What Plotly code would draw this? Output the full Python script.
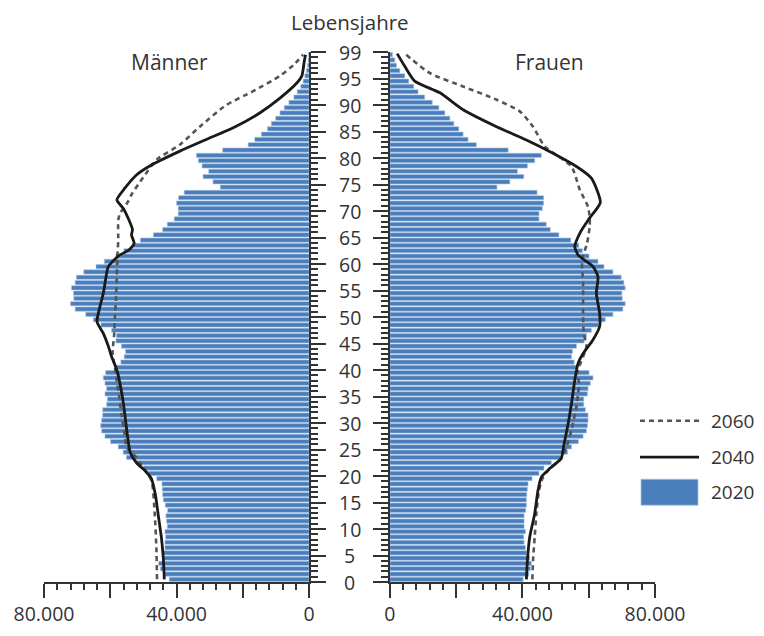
import plotly.graph_objects as go

# ---------------- data (thousands of persons per single year of age) ----------------
ages = list(range(0, 100))

men_2020 = [42.2, 43.5, 44.9, 45.4, 43.8, 44.0, 43.5, 43.5, 43.3, 43.5,
            42.8, 43.0, 43.2, 42.7, 43.4, 44.0, 44.2, 44.3, 44.4, 46.0,
            48.5, 50.0, 52.1, 55.1, 56.1, 57.6, 59.9, 61.6, 62.6, 62.9,
            62.6, 62.3, 62.3, 61.1, 60.9, 61.6, 61.1, 61.6, 62.1, 61.4,
            58.8, 56.8, 55.8, 55.4, 56.6, 58.3, 58.1, 59.6, 62.8, 65.1,
            67.4, 70.6, 72.0, 71.0, 71.1, 71.7, 70.6, 70.2, 68.0, 64.3,
            61.8, 58.3, 55.9, 53.1, 50.9, 47.0, 44.2, 42.8, 40.7, 39.5,
            39.5, 40.0, 39.4, 37.7, 26.8, 29.0, 32.0, 30.3, 32.3, 33.4,
            34.0, 26.1, 18.4, 16.4, 14.4, 12.6, 11.4, 10.1, 8.8, 7.5,
            6.1, 4.6, 3.6, 2.5, 1.8, 1.3, 0.8, 0.5, 0.3, 0.2]

women_2020 = [40.2, 41.9, 42.4, 42.7, 42.2, 41.2, 40.9, 40.5, 40.4, 40.9,
              40.5, 40.5, 40.5, 41.0, 41.2, 41.2, 41.3, 41.5, 41.7, 42.9,
              45.0, 46.5, 48.7, 51.5, 53.6, 54.8, 56.9, 58.3, 59.3, 59.6,
              59.8, 59.8, 59.0, 58.5, 58.5, 59.6, 59.8, 60.5, 61.3, 60.1,
              56.5, 55.6, 54.8, 55.1, 56.3, 58.6, 59.3, 60.8, 63.0, 65.0,
              67.3, 70.3, 71.0, 70.1, 70.0, 71.0, 70.6, 69.8, 67.3, 64.6,
              62.8, 60.1, 58.1, 57.0, 54.6, 51.0, 48.4, 47.2, 45.0, 45.0,
              46.0, 46.4, 46.4, 44.4, 32.3, 36.2, 40.4, 38.5, 41.5, 43.7,
              45.7, 35.7, 26.1, 23.6, 22.1, 20.8, 19.3, 18.1, 16.6, 14.8,
              12.8, 10.5, 8.5, 7.2, 5.7, 4.5, 3.0, 2.0, 1.5, 0.8]

men_2040_age = [0, 4, 8, 12, 16, 19, 20.5, 22, 24, 27, 30, 33, 36, 38.5, 40, 42, 44,
                46.4, 48.6, 51, 54, 57, 59, 61, 62.2, 63.4, 65, 66, 68, 70, 71.6,
                73.8, 76.3, 78, 80.8, 83, 85.2, 88, 90.8, 93.6, 95, 97.6, 99]
men_2040 = [43.7, 44.0, 44.6, 45.5, 46.4, 47.6, 49.5, 52.1, 54.0, 54.8, 55.4, 56.0, 56.8,
            57.6, 58.3, 59.6, 60.6, 62.1, 64.0, 63.3, 62.1, 61.3, 60.6, 57.6, 54.3, 52.8,
            53.6, 53.3, 54.5, 56.1, 58.0, 55.6, 52.1, 48.1, 39.0, 31.0, 22.9, 14.9, 8.8,
            3.8, 2.2, 1.5, 1.1]

men_2060_age = [0, 6, 12.4, 18.7, 21.9, 23, 25, 28, 31, 34.4, 37.6, 40.1, 42.5, 46.4,
                49.6, 52.7, 55.9, 61.5, 64, 67.8, 69, 71.3, 72.6, 75.8, 79.2, 82, 85.4,
                89.5, 92.1, 95, 97, 99]
men_2060 = [45.9, 46.1, 46.6, 47.6, 51.0, 52.1, 55.1, 55.8, 56.6, 57.3, 58.1, 58.6, 59.3,
            58.8, 58.6, 58.3, 58.1, 57.8, 57.6, 57.6, 57.1, 54.6, 53.6, 50.1, 46.0, 39.0,
            33.0, 25.0, 16.9, 8.8, 4.8, 1.8]

women_2040_age = [0, 3.6, 8, 12.4, 16.8, 19.3, 20.9, 22.8, 25, 29.4, 33.2, 37.6, 40.8,
                  42.6, 45.2, 47.7, 50.2, 54, 57.1, 59, 61.2, 62.8, 65.3, 68.2, 71.1,
                  75.7, 77.9, 80.4, 82.9, 85.4, 88.6, 91.8, 94, 96.8, 99.2]
women_2040 = [41.2, 41.5, 42.2, 43.7, 44.7, 45.7, 48.2, 51.7, 52.4, 53.8, 54.8, 55.8, 56.8,
              58.3, 61.3, 63.3, 63.3, 62.3, 62.8, 61.3, 56.8, 55.8, 57.3, 60.3, 63.5,
              60.8, 56.3, 49.2, 41.2, 32.2, 22.1, 15.1, 7.5, 4.5, 2.2]

women_2060_age = [0, 3.6, 8, 12.4, 16.8, 19.3, 21.2, 22.5, 25, 28.2, 32.6, 35.1, 37, 38.9,
                  43.9, 46.4, 49.6, 55.9, 60.3, 63.4, 66.6, 68.1, 70.3, 73.5, 77.9, 81.7,
                  85.4, 88.3, 90.5, 93.0, 95.5, 99.2]
women_2060 = [43.0, 43.2, 43.7, 44.2, 45.0, 46.2, 48.7, 51.2, 53.3, 54.8, 56.3, 56.8, 57.1,
              56.5, 59.3, 58.5, 58.3, 58.3, 58.0, 59.5, 60.3, 60.3, 59.8, 57.3, 54.8, 46.7,
              43.2, 39.2, 32.2, 22.1, 12.1, 4.5]

age_tickvals = list(range(0, 100, 5)) + [100]
age_ticktext = [str(v) for v in range(0, 100, 5)] + ["99"]

x_tickvals = [0, 20000, 40000, 60000, 80000]
x_ticktext = ["0", "", "40.000", "", "80.000"]

legend_labels = ["2060", "2040", "2020"]

# ---------------- styling ----------------
FONT = "Open Sans"
TXT = "#333333"
BAR = "#4a7ebb"
AX = "#333333"
FS = 21
FS_X = 19.5
FS_AGE = 19.5
FS_LEG = 19

def k(v):
    return [x * 1000 for x in v]

def ypos(a):
    return [x + 0.5 for x in a]

fig = go.Figure()

# left panel (men)
fig.add_trace(go.Bar(x=k(men_2020), y=ypos(ages), orientation="h", width=0.8,
                     marker=dict(color=BAR, line=dict(color="#a9c3e3", width=0.6)),
                     xaxis="x", yaxis="y", showlegend=False))
fig.add_trace(go.Scatter(x=k(men_2060), y=ypos(men_2060_age), mode="lines",
                         line=dict(color="#555555", width=2.6, dash="5px,4px", shape="spline", smoothing=0.6),
                         xaxis="x", yaxis="y", showlegend=False))
fig.add_trace(go.Scatter(x=k(men_2040), y=ypos(men_2040_age), mode="lines",
                         line=dict(color="#1a1a1a", width=2.8, shape="spline", smoothing=0.6),
                         xaxis="x", yaxis="y", showlegend=False))

# right panel (women)
fig.add_trace(go.Bar(x=k(women_2020), y=ypos(ages), orientation="h", width=0.8,
                     marker=dict(color=BAR, line=dict(color="#a9c3e3", width=0.6)),
                     xaxis="x2", yaxis="y2", showlegend=False))
fig.add_trace(go.Scatter(x=k(women_2060), y=ypos(women_2060_age), mode="lines",
                         line=dict(color="#555555", width=2.6, dash="5px,4px", shape="spline", smoothing=0.6),
                         xaxis="x2", yaxis="y2", showlegend=False))
fig.add_trace(go.Scatter(x=k(women_2040), y=ypos(women_2040_age), mode="lines",
                         line=dict(color="#1a1a1a", width=2.8, shape="spline", smoothing=0.6),
                         xaxis="x2", yaxis="y2", showlegend=False))

# page body has an 8px margin on every side: keep the figure inside the viewport
OFF = 8
W, H = 764 - 2 * OFF, 636 - 2 * OFF
LEFT, RIGHT, TOP, BOTTOM = 44.3 - OFF, 655 - OFF, 52.3 - OFF, 581.7 - OFF
ML, MR, MT, MB = LEFT, W - RIGHT, TOP, H - BOTTOM
PW, PH = RIGHT - LEFT, BOTTOM - TOP

def px_x(p):
    return (p - OFF - LEFT) / PW

def px_y(p):
    return (BOTTOM - (p - OFF)) / PH

xcommon = dict(showline=True, linecolor=AX, linewidth=1.5, ticks="outside", tickcolor=AX,
               tickwidth=1.5, ticklen=14, tickvals=x_tickvals, ticktext=x_ticktext,
               showgrid=False, zeroline=False, fixedrange=True, automargin=False,
               tickfont=dict(family=FONT, size=FS_X, color=TXT), ticklabelstandoff=0,
               minor=dict(tickmode="linear", tick0=0, dtick=4000, ticks="outside", ticklen=6,
                          tickcolor=AX, tickwidth=1.5, showgrid=False))
ycommon = dict(range=[0, 100], showline=True, linecolor=AX, linewidth=1.5, ticks="outside",
               tickcolor=AX, tickwidth=1.5, ticklen=15, tickvals=age_tickvals,
               showticklabels=False, showgrid=False, zeroline=False, automargin=False,
               minor=dict(tickmode="linear", tick0=0, dtick=1, ticks="outside", ticklen=7,
                          tickcolor=AX, tickwidth=1.5, showgrid=False))

fig.update_layout(
    width=W, height=H,
    margin=dict(l=ML, r=MR, t=MT, b=MB, pad=0, autoexpand=False),
    paper_bgcolor="white", plot_bgcolor="white",
    barmode="overlay",
    font=dict(family=FONT, size=FS, color=TXT),
    xaxis=dict(domain=[0, px_x(309.3)], range=[80000, 0], anchor="y", **xcommon),
    xaxis2=dict(domain=[px_x(390), 1], range=[0, 80000], anchor="y2", **xcommon),
    yaxis=dict(anchor="x", side="right", **ycommon),
    yaxis2=dict(anchor="x2", side="left", matches="y", **ycommon),
    showlegend=False,
)

# age labels in the centre column
for v, t in zip(age_tickvals, age_ticktext):
    fig.add_annotation(x=px_x(350), xref="paper", y=v, yref="y", text=t, showarrow=False,
                       xanchor="center", yanchor="middle",
                       font=dict(family=FONT, size=FS_AGE, color=TXT))

# titles
fig.add_annotation(x=px_x(350), y=px_y(22.5), xref="paper", yref="paper", text="Lebensjahre",
                   showarrow=False, xanchor="center", yanchor="middle", borderpad=0,
                   font=dict(family=FONT, size=20.5, color=TXT))
fig.add_annotation(x=px_x(170), y=px_y(62), xref="paper", yref="paper", text="Männer",
                   showarrow=False, xanchor="center", yanchor="middle",
                   font=dict(family=FONT, size=FS, color=TXT))
fig.add_annotation(x=px_x(550), y=px_y(62), xref="paper", yref="paper", text="Frauen",
                   showarrow=False, xanchor="center", yanchor="middle",
                   font=dict(family=FONT, size=FS, color=TXT))

# legend (drawn manually to match the large keys)
fig.add_shape(type="line", xref="paper", yref="paper", x0=px_x(640), x1=px_x(699),
              y0=px_y(420.7), y1=px_y(420.7), line=dict(color="#555555", width=2.6, dash="5px,4px"))
fig.add_shape(type="line", xref="paper", yref="paper", x0=px_x(640), x1=px_x(699),
              y0=px_y(457), y1=px_y(457), line=dict(color="#1a1a1a", width=2.8))
fig.add_shape(type="rect", xref="paper", yref="paper", x0=px_x(641), x1=px_x(698),
              y0=px_y(505), y1=px_y(479), line=dict(color="#a9c3e3", width=0.8), fillcolor=BAR)
for lab, yy in zip(legend_labels, [420.7, 457, 492]):
    fig.add_annotation(x=px_x(709), y=px_y(yy), xref="paper", yref="paper", text=lab,
                       showarrow=False, xanchor="left", yanchor="middle",
                       font=dict(family=FONT, size=FS_LEG, color=TXT))

fig.write_html("out.html")
